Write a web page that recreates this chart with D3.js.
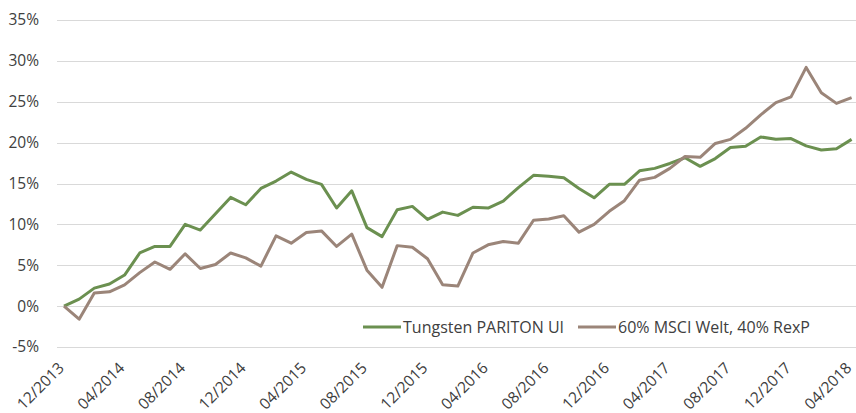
<!DOCTYPE html>
<html>
<head>
<meta charset="utf-8">
<script src="https://cdn.jsdelivr.net/npm/d3@7"></script>
<style>
  body { margin: 0; background: #fff; }
  text { font-family: "Open Sans", sans-serif; fill: #404040; }
</style>
</head>
<body>
<div id="chart"></div>
<script>
// month labels, 12/2013 .. 04/2018
const months = [];
for (let i = 0; i <= 52; i++) {
  const m = (11 + i) % 12 + 1;
  const y = 2013 + Math.floor((11 + i) / 12);
  months.push(String(m).padStart(2, "0") + "/" + y);
}
const tickLabels = ["12/2013", "04/2014", "08/2014", "12/2014", "04/2015", "08/2015", "12/2015",
  "04/2016", "08/2016", "12/2016", "04/2017", "08/2017", "12/2017", "04/2018"];
const yTicks = [-5, 0, 5, 10, 15, 20, 25, 30, 35];

// cumulative performance in %
const pariton = [0, 0.86, 2.2, 2.7, 3.8, 6.5, 7.3, 7.3, 10.0, 9.3, 11.3, 13.3, 12.4, 14.4, 15.3, 16.4,
  15.5, 14.9, 12.0, 14.1, 9.6, 8.5, 11.8, 12.2, 10.6, 11.5, 11.1, 12.1, 12.0, 12.85, 14.5, 16.0,
  15.9, 15.7, 14.4, 13.25, 14.9, 14.9, 16.55, 16.85, 17.45, 18.15, 17.1, 18.05, 19.4, 19.55, 20.7,
  20.4, 20.5, 19.6, 19.1, 19.25, 20.4];
const benchmark = [0, -1.6, 1.6, 1.75, 2.6, 4.1, 5.4, 4.5, 6.4, 4.6, 5.1, 6.5, 5.9, 4.9, 8.6, 7.7,
  9.0, 9.2, 7.3, 8.8, 4.4, 2.3, 7.4, 7.2, 5.8, 2.6, 2.45, 6.5, 7.5, 7.9, 7.7, 10.5,
  10.65, 11.05, 9.05, 10.0, 11.6, 12.9, 15.4, 15.75, 16.85, 18.3, 18.2, 19.9, 20.4, 21.75, 23.4,
  24.9, 25.6, 29.2, 26.1, 24.8, 25.5];

const series = [
  { name: "Tungsten PARITON UI", values: pariton, color: "#6b9050" },
  { name: "60% MSCI Welt, 40% RexP", values: benchmark, color: "#9b8579" }
];

const width = 856, height = 413;
const svg = d3.select("#chart").append("svg")
  .attr("width", width)
  .attr("height", height);

const x = d3.scalePoint().domain(months).range([64, 851.6]);
const y = d3.scaleLinear().domain([-5, 35]).range([347, 20]);

// gridlines
svg.append("g")
  .selectAll("line")
  .data(yTicks)
  .join("line")
  .attr("x1", 57)
  .attr("x2", 856)
  .attr("y1", d => Math.round(y(d)) + 0.5)
  .attr("y2", d => Math.round(y(d)) + 0.5)
  .attr("stroke", "#d9d9d9")
  .attr("stroke-width", 1);

// y labels
svg.append("g")
  .selectAll("text")
  .data(yTicks)
  .join("text")
  .attr("x", 39)
  .attr("y", d => y(d))
  .attr("dy", "0.35em")
  .attr("text-anchor", "end")
  .style("font-size", "15.5px")
  .text(d => d + "%");

// x labels
svg.append("g")
  .selectAll("text")
  .data(tickLabels)
  .join("text")
  .attr("transform", d => `translate(${x(d) + 1}, 369) rotate(-45)`)
  .attr("text-anchor", "end")
  .style("font-size", "15.5px")
  .text(d => d);

// lines
const line = d3.line()
  .x((d, i) => x(months[i]))
  .y(d => y(d));

svg.append("g")
  .selectAll("path")
  .data(series)
  .join("path")
  .attr("d", d => line(d.values))
  .attr("fill", "none")
  .attr("stroke", d => d.color)
  .attr("stroke-width", 3)
  .attr("stroke-linejoin", "round");

// legend
const legendX = [363, 578];
const legend = svg.append("g")
  .selectAll("g")
  .data(series)
  .join("g")
  .attr("transform", (d, i) => `translate(${legendX[i]}, 327)`);

legend.append("line")
  .attr("x1", 0)
  .attr("x2", 38)
  .attr("stroke", d => d.color)
  .attr("stroke-width", 3);

legend.append("text")
  .attr("x", 40)
  .attr("dy", "0.35em")
  .style("font-size", "16px")
  .text(d => d.name);
</script>
</body>
</html>
